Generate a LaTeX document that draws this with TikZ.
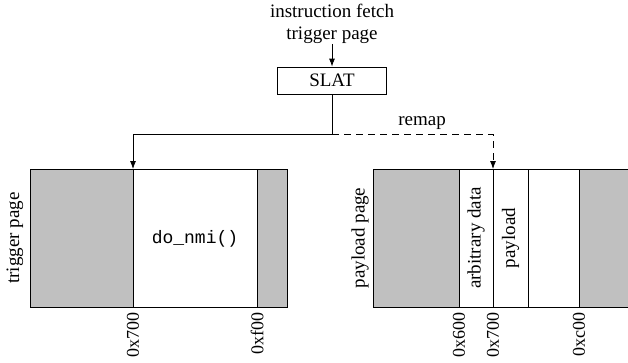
\documentclass[tikz,border=0pt]{standalone}
\usepackage{fontspec}
\setmainfont{Liberation Serif}
\setmonofont{Liberation Mono}
\usepackage{tikz}
\usetikzlibrary{positioning,arrows.meta,calc}
\definecolor{pagegray}{RGB}{192,192,192}
\tikzset{
  box/.style={draw, line width=0.8pt, minimum width=109pt, minimum height=27pt,
              inner sep=0pt, font=\fontsize{19}{22}\selectfont},
  pagefill/.style={fill=pagegray},
  pageline/.style={draw, line width=0.8pt},
  edge/.style={-{Latex[length=8pt,width=6pt]}, line width=0.8pt},
  remapedge/.style={edge, dashed, dash pattern=on 7pt off 5pt},
  lbl/.style={font=\fontsize{19}{22}\selectfont, inner sep=0pt, align=center},
  vlbl/.style={lbl, rotate=90},
  tick/.style={lbl, font=\fontsize{18}{22}\selectfont, rotate=90, anchor=east}
}
\begin{document}
\begin{tikzpicture}[x=1pt,y=-1pt]
  \useasboundingbox (0,0) rectangle (628,362);
  % trigger page
  \fill[pagefill] (30,169) rectangle (133,307);
  \fill[pagefill] (257,169) rectangle (287,307);
  \draw[pageline] (30,169) rectangle (287,307);
  \foreach \x/\name/\hex in {133/t700/0x700, 257/tf00/0xf00} {
    \draw[pageline] (\x,169) coordinate (\name) -- (\x,307);
    \node[tick] at (\x,312) {\hex};
  }
  \node[vlbl] (trigname) at (15,238) {trigger page};
  \node[lbl, font=\fontsize{18}{22}\ttfamily] (donmi) at (195,239) {do\_nmi()};
  % payload page
  \fill[pagefill] (373,169) rectangle (459,307);
  \fill[pagefill] (579,169) rectangle (634,307);
  \draw[pageline] (373,169) rectangle (634,307);
  \foreach \x/\name in {459/p600, 493/p700, 528/pend, 579/pc00} {
    \draw[pageline] (\x,169) coordinate (\name) -- (\x,307);
  }
  \foreach \x/\hex in {459/0x600, 493/0x700, 579/0xc00} {
    \node[tick] at (\x,312) {\hex};
  }
  \node[vlbl] (payname) at (360,238) {payload page};
  \node[vlbl] (arbdata) at (476,238) {arbitrary data};
  \node[vlbl] (payload) at (510.5,238) {payload};
  % SLAT
  \node[lbl] (fetch) at (332,24) {instruction fetch\\trigger page};
  \node[box] (slat) at (332,80.5) {SLAT};
  \coordinate (split) at (332,134);
  \draw[edge] (fetch) -- (slat);
  \draw[line width=0.8pt] (slat) -- (split);
  \draw[edge] (split) -| (t700);
  \draw[remapedge] (split) -| (p700);
  \node[lbl] (remap) at (422,123) {remap};
\end{tikzpicture}
\end{document}
